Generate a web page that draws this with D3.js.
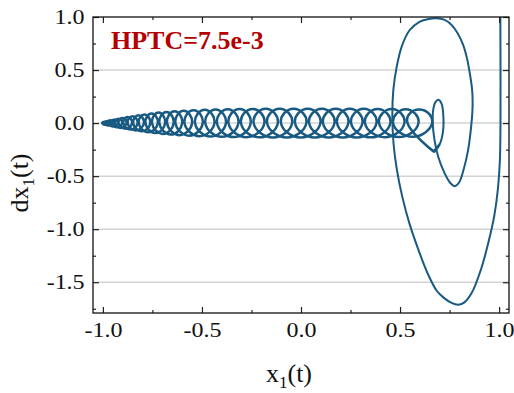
<!DOCTYPE html>
<html>
<head>
<meta charset="utf-8">
<script src="https://cdn.jsdelivr.net/npm/d3@7"></script>
<style>
  html, body { margin: 0; padding: 0; background: #fff; }
  svg { display: block; }
  text { font-family: "Liberation Serif", "Times New Roman", serif; }
</style>
</head>
<body>
<svg id="chart" width="514" height="393"></svg>
<script>
// ---------- data ----------
const xMajorTicks = [-1.0, -0.5, 0.0, 0.5, 1.0];
const xMinorTicks = [-0.75, -0.25, 0.25, 0.75];
const yMajorTicks = [1.0, 0.5, 0.0, -0.5, -1.0, -1.5];
const yMinorTicks = [0.75, 0.25, -0.25, -0.75, -1.25, -1.75];
const gridValues = [0.5, 0.0, -0.5, -1.0, -1.5];

// outer (early) part of the trajectory: x1 and dx1 waypoints in time order
const outerX  = [1.006, 1.007, 1.007, 1.004, 0.994, 0.976, 0.948, 0.910, 0.862, 0.825, 0.795, 0.760, 0.720, 0.685, 0.640, 0.592, 0.548, 0.512, 0.484, 0.467, 0.461, 0.466, 0.483, 0.510, 0.548, 0.598, 0.645, 0.685, 0.722, 0.758, 0.790, 0.818, 0.838, 0.853, 0.864, 0.866, 0.858, 0.843, 0.822, 0.798, 0.776, 0.752, 0.722, 0.693, 0.674, 0.665, 0.667, 0.678, 0.694, 0.710, 0.719, 0.716, 0.700, 0.675, 0.645];
const outerDX = [1.200, 0.600, 0.000, -0.350, -0.620, -0.870, -1.110, -1.370, -1.600, -1.690, -1.712, -1.695, -1.645, -1.580, -1.420, -1.190, -0.950, -0.700, -0.440, -0.190, 0.060, 0.310, 0.530, 0.730, 0.875, 0.955, 0.982, 0.988, 0.975, 0.930, 0.850, 0.740, 0.610, 0.460, 0.310, 0.150, -0.050, -0.260, -0.430, -0.560, -0.595, -0.560, -0.460, -0.320, -0.160, 0.000, 0.120, 0.195, 0.220, 0.180, 0.050, -0.090, -0.200, -0.260, -0.230];

// drifting small loops (later part): centre, half-width, half-height of each cycle
const loopCenter = [0.600, 0.529, 0.458, 0.387, 0.317, 0.246, 0.175, 0.105, 0.034, -0.037, -0.108, -0.178, -0.244, -0.310, -0.370, -0.431, -0.486, -0.542, -0.592, -0.638, -0.679, -0.719, -0.754, -0.790, -0.820, -0.850, -0.875, -0.901, -0.921, -0.941, -0.961, -0.976, -0.991];
const loopHalfWidth = [0.062, 0.064, 0.064, 0.064, 0.064, 0.064, 0.064, 0.064, 0.064, 0.064, 0.063, 0.061, 0.059, 0.056, 0.054, 0.052, 0.049, 0.046, 0.042, 0.038, 0.036, 0.033, 0.031, 0.029, 0.027, 0.025, 0.022, 0.020, 0.018, 0.017, 0.015, 0.013, 0.012];
const loopHeight = [0.128, 0.131, 0.133, 0.134, 0.135, 0.136, 0.136, 0.136, 0.136, 0.136, 0.136, 0.135, 0.134, 0.133, 0.131, 0.128, 0.125, 0.121, 0.116, 0.111, 0.105, 0.099, 0.090, 0.082, 0.073, 0.065, 0.057, 0.049, 0.042, 0.035, 0.027, 0.020, 0.013];
const endX = -1.0;

const annotation = "HPTC=7.5e-3";

// ---------- layout ----------
const plot = { left: 93, right: 509, top: 17, bottom: 313 };
const svg = d3.select("#chart");

const x = d3.scaleLinear().domain([-1.05, 1.05]).range([plot.left, plot.right]);
const y = d3.scaleLinear().domain([-1.79, 1.0]).range([plot.bottom, plot.top]);

const fmt = v => d3.format(".1f")(v).replace("\u2212", "-");

// grid lines
svg.append("g").selectAll("line").data(gridValues).join("line")
  .attr("x1", plot.left).attr("x2", plot.right)
  .attr("y1", d => y(d)).attr("y2", d => y(d))
  .attr("stroke", "#d3d3d3").attr("stroke-width", 1.5);

// clip
svg.append("clipPath").attr("id", "clip").append("rect")
  .attr("x", plot.left).attr("y", plot.top)
  .attr("width", plot.right - plot.left).attr("height", plot.bottom - plot.top);

// outer part of trajectory
const outerPts = outerX.map((v, i) => [v, outerDX[i]]);

// loop train, continuing from the end of the outer part
const bandPts = outerPts.slice(-3);
for (let k = 0; k < loopCenter.length; k++) {
  const c = loopCenter[k], a = loopHalfWidth[k], h = loopHeight[k];
  bandPts.push([c - a, 0], [c, h], [c + a, 0]);
  if (k + 1 < loopCenter.length) {
    const nl = loopCenter[k + 1] - loopHalfWidth[k + 1];
    bandPts.push([(c + a + nl) / 2, -(h + loopHeight[k + 1]) / 2]);
  } else {
    bandPts.push([(c + a + endX) / 2, -h * 0.6]);
  }
}
bandPts.push([endX, 0]);

const lineOuter = d3.line().x(d => x(d[0])).y(d => y(d[1])).curve(d3.curveCatmullRom.alpha(0.5));
const lineBand = d3.line().x(d => x(d[0])).y(d => y(d[1])).curve(d3.curveNatural);

const curveG = svg.append("g").attr("clip-path", "url(#clip)")
  .attr("fill", "none").attr("stroke", "#185a82").attr("stroke-linejoin", "round");
curveG.append("path").attr("d", lineBand(bandPts)).attr("stroke-width", 2.5);
curveG.append("path").attr("d", lineOuter(outerPts)).attr("stroke-width", 2.0);

// axes
function addAxis(axisFn, scale, ticks, size, transform, labels) {
  const ax = axisFn(scale).tickValues(ticks).tickSizeInner(-size).tickSizeOuter(0)
    .tickFormat(labels ? fmt : () => "").tickPadding(labels ? 9 : 0);
  const g = svg.append("g").attr("transform", transform).call(ax);
  g.select(".domain").remove();
  g.selectAll(".tick line").attr("stroke", "#222").attr("stroke-width", 1.2);
  g.selectAll("text").attr("fill", "#111").style("font-size", "20px")
    .style("font-family", '"Liberation Serif", "Times New Roman", serif')
    .attr("transform", "scale(1.2,1)");
  return g;
}
addAxis(d3.axisBottom, x, xMajorTicks, 6, `translate(0,${plot.bottom})`, true)
  .selectAll("text").attr("y", 10);
addAxis(d3.axisBottom, x, xMinorTicks, 3, `translate(0,${plot.bottom})`, false);
addAxis(d3.axisTop, x, xMajorTicks, 6, `translate(0,${plot.top})`, false);
addAxis(d3.axisTop, x, xMinorTicks, 3, `translate(0,${plot.top})`, false);
addAxis(d3.axisLeft, y, yMajorTicks, 6, `translate(${plot.left},0)`, true)
  .selectAll("text").attr("x", -7);
addAxis(d3.axisLeft, y, yMinorTicks, 3, `translate(${plot.left},0)`, false);
addAxis(d3.axisRight, y, yMajorTicks, 6, `translate(${plot.right},0)`, false);
addAxis(d3.axisRight, y, yMinorTicks, 3, `translate(${plot.right},0)`, false);

// frame
svg.append("rect")
  .attr("x", plot.left).attr("y", plot.top)
  .attr("width", plot.right - plot.left).attr("height", plot.bottom - plot.top)
  .attr("fill", "none").attr("stroke", "#111").attr("stroke-width", 1.3);

// axis titles
const xt = svg.append("text").attr("x", 289).attr("y", 382)
  .attr("text-anchor", "middle").style("font-size", "26px").attr("fill", "#111");
xt.append("tspan").text("x");
xt.append("tspan").text("1").style("font-size", "17px").attr("dy", 6);
xt.append("tspan").text("(t)").attr("dy", -6);

const yt = svg.append("text")
  .attr("transform", "translate(28,183) rotate(-90)")
  .attr("text-anchor", "middle").style("font-size", "26px").attr("fill", "#111");
yt.append("tspan").text("dx");
yt.append("tspan").text("1").style("font-size", "17px").attr("dy", 6);
yt.append("tspan").text("(t)").attr("dy", -6);

// annotation
svg.append("text").attr("x", 111).attr("y", 49)
  .style("font-size", "26px").style("font-weight", "bold")
  .attr("fill", "#b30000").text(annotation);
</script>
</body>
</html>
